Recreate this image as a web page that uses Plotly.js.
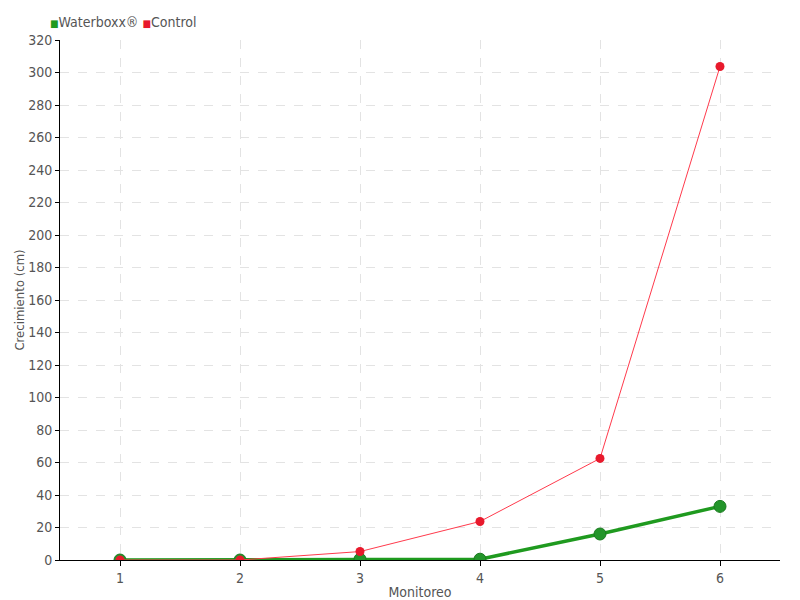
<!DOCTYPE html>
<html>
<head>
<meta charset="utf-8">
<script src="https://cdn.plot.ly/plotly-3.0.1.min.js"></script>
<style>html,body{margin:0;padding:0;background:#fff}#chart{width:800px;height:600px}
#chart text{font-stretch:condensed !important;}</style>
</head>
<body>
<div id="chart"></div>
<script>
const categories = [1, 2, 3, 4, 5, 6];
const waterboxxName = "Waterboxx®";
const waterboxxValues = [0, 0, 0.5, 0.5, 16, 33];
const controlName = "Control";
const controlValues = [0, 0, 5.2, 23.7, 62.5, 303.7];
const yTicks = [0,20,40,60,80,100,120,140,160,180,200,220,240,260,280,300,320];

const FONT = '"DejaVu Sans Condensed", "DejaVu Sans", sans-serif';
const TXT = '#555';
const green = '#1f9a1f';
const red = '#e8192c';

const traces = [
  {
    x: categories, y: waterboxxValues, name: waterboxxName, type: 'scatter', mode: 'lines+markers',
    line: {color: green, width: 3.5},
    marker: {color: '#23952a', size: 12, line: {color: '#1a7a1f', width: 1}},
    showlegend: false
  },
  {
    x: categories, y: controlValues, name: controlName, type: 'scatter', mode: 'lines+markers',
    line: {color: '#ff3a4c', width: 1},
    marker: {color: red, size: 9},
    showlegend: false
  }
];

const legendText = '<span style="color:' + green + ';font-size:10px">■</span>' + waterboxxName +
  ' <span style="color:' + red + ';font-size:10px">■</span>' + controlName;

const layout = {
  width: 800, height: 600,
  margin: {l: 60, r: 20, t: 40, b: 40},
  paper_bgcolor: '#fff', plot_bgcolor: '#fff',
  font: {family: FONT, size: 14, color: TXT},
  showlegend: false,
  xaxis: {
    range: [0.5, 6.5], tickvals: categories, ticktext: categories.map(String),
    showgrid: true, gridcolor: '#e3e3e3', griddash: 'dash', gridwidth: 1,
    showline: true, linecolor: '#000', linewidth: 1,
    ticks: 'outside', ticklen: 5, tickcolor: '#000',
    zeroline: false,
    title: {text: 'Monitoreo', font: {family: FONT, size: 14, color: TXT}, standoff: 2},
    tickfont: {family: FONT, size: 14, color: TXT}
  },
  yaxis: {
    range: [0, 320], tickvals: yTicks,
    showgrid: true, gridcolor: '#e3e3e3', griddash: 'dash', gridwidth: 1,
    showline: true, linecolor: '#000', linewidth: 1,
    ticks: 'outside', ticklen: 4, tickcolor: '#000',
    zeroline: false,
    title: {text: 'Crecimiento (cm)', font: {family: FONT, size: 13, color: TXT}, standoff: 0},
    tickfont: {family: FONT, size: 14, color: TXT}
  },
  annotations: [{
    xref: 'paper', yref: 'paper', x: -0.017, y: 1.0, yshift: 18,
    xanchor: 'left', yanchor: 'middle', showarrow: false,
    text: legendText, font: {family: FONT, size: 14, color: TXT}
  }]
};

Plotly.newPlot('chart', traces, layout, {displayModeBar: false, staticPlot: true});
</script>
</body>
</html>
